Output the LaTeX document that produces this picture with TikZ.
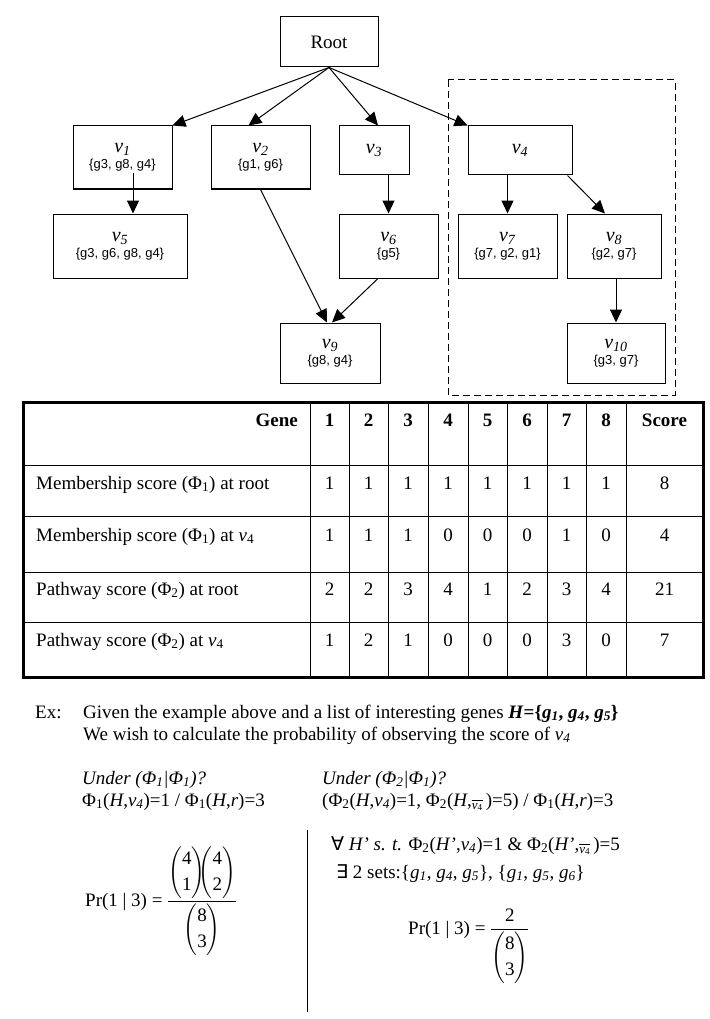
\documentclass[tikz,border=0pt]{standalone}
\usepackage{fix-cm}
\usepackage{amsmath}
\usepackage{fontspec}
\setmainfont{Liberation Serif}
\newfontfamily\arialfont{Liberation Sans}
\newfontfamily\dejavufont{DejaVu Sans}
\usetikzlibrary{arrows.meta}

\newcommand{\bigtext}{\fontsize{19}{19}\selectfont}
\newcommand{\settext}{\arialfont\fontsize{13}{13}\selectfont}
\newcommand{\vlab}[1]{\textit{v}\textsubscript{\textit{#1}}}
\newcommand{\gsub}[1]{\textit{g}\textsubscript{\textit{#1}}}
\newcommand{\vbar}{\raisebox{-3pt}{$\overline{\hbox{\fontsize{13}{13}\selectfont\textit{v}\textsubscript{4}}}$}\,}

\begin{document}
\begin{tikzpicture}[
  x=1pt, y=-1pt,
  vbox/.style={draw, line width=1pt, inner sep=0pt, align=center,
               font=\fontsize{20}{20}\selectfont},
  arr/.style={-{Triangle[length=13pt,width=12pt]}, line width=1pt},
  grid/.style={line width=1pt},
  frame/.style={line width=3pt},
  cell/.style={anchor=base, inner sep=0pt, font=\bigtext},
  txt/.style={anchor=base west, inner sep=0pt, font=\bigtext,
              text height=13pt, text depth=3pt}
]
  \useasboundingbox (0,0) rectangle (709,1019);

  % tree of pathway nodes
  \node[vbox, minimum width=98pt, minimum height=50pt, font=\bigtext] (root) at (329,42) {Root};
  \node[vbox, minimum width=99pt, minimum height=63pt] (v1) at (122.5,157.5)
    {\vlab{1}\\[-4pt]{\settext\{g3, g8, g4\}}};
  \node[vbox, minimum width=99pt, minimum height=63pt] (v2) at (260.5,157.5)
    {\vlab{2}\\[-4pt]{\settext\{g1, g6\}}};
  \node[vbox, minimum width=70pt, minimum height=49pt] (v3) at (374,150.5) {\vlab{3}};
  \node[vbox, minimum width=104pt, minimum height=49pt] (v4) at (520,150.5) {\vlab{4}};
  \node[vbox, minimum width=134pt, minimum height=64pt] (v5) at (120,246)
    {\vlab{5}\\[-4pt]{\settext\{g3, g6, g8, g4\}}};
  \node[vbox, minimum width=99pt, minimum height=64pt] (v6) at (388.5,246)
    {\vlab{6}\\[-4pt]{\settext\{g5\}}};
  \node[vbox, minimum width=99pt, minimum height=64pt] (v7) at (507.5,246)
    {\vlab{7}\\[-4pt]{\settext\{g7, g2, g1\}}};
  \node[vbox, minimum width=94pt, minimum height=64pt] (v8) at (614,246)
    {\vlab{8}\\[-4pt]{\settext\{g2, g7\}}};
  \node[vbox, minimum width=100pt, minimum height=60pt] (v9) at (330,353)
    {\vlab{9}\\[-4pt]{\settext\{g8, g4\}}};
  \node[vbox, minimum width=98pt, minimum height=60pt] (v10) at (616,353)
    {\vlab{10}\\[-4pt]{\settext\{g3, g7\}}};

  % selected subtree
  \draw[line width=1pt, dash pattern=on 7pt off 4pt] (448,80) rectangle (675,395);

  % edges
  \draw[arr] (root.south) -- (v1.north east);
  \draw[arr] (root.south) -- ([xshift=-12pt]v2.north);
  \draw[arr] (root.south) -- ([xshift=4pt]v3.north);
  \draw[arr] (root.south) -- (v4.north west);
  \draw[arr] ([xshift=10.5pt,yshift=16pt]v1.south) -- ([xshift=13pt]v5.north);
  \draw[arr] (v2.south) -- ([xshift=-3pt]v9.north);
  \draw[arr] ([xshift=-10.5pt]v6.south) -- ([xshift=2pt]v9.north);
  \draw[arr] (v6.north |- v3.south) -- (v6.north);
  \draw[arr] (v7.north |- v4.south) -- (v7.north);
  \draw[arr] ([xshift=-5pt]v4.south east) -- ([xshift=-9pt]v8.north);
  \draw[arr] (v10.north |- v8.south) -- (v10.north);

  % score table
  \foreach \x in {310,349,388,428,468,507,547,586,626}
    \draw[grid] (\x,402) -- (\x,677);
  \foreach \y in {465,516,572,622}
    \draw[grid] (23,\y) -- (703,\y);
  \draw[frame] (23,402) rectangle (703,677);

  \node[cell, anchor=base east, font=\bigtext\bfseries] (gene) at (298,426) {Gene};
  \foreach \x [count=\i] in {329.5,368.5,408,448,487.5,527,566.5,606}
    \node[cell, font=\bigtext\bfseries] (head-\i) at (\x,426) {\i};
  \node[cell, font=\bigtext\bfseries] (score) at (664.5,426) {Score};

  \foreach \y/\lab [count=\r] in {
      489/{Membership score (Φ\textsubscript{1}) at root},
      541/{Membership score (Φ\textsubscript{1}) at \textit{v}\textsubscript{4}},
      595/{Pathway score (Φ\textsubscript{2}) at root},
      646/{Pathway score (Φ\textsubscript{2}) at \textit{v}\textsubscript{4}}}
    \node[txt] (row-\r) at (36,\y) {\lab};

  \foreach \vals [count=\r] in {{1,1,1,1,1,1,1,1,8},{1,1,1,0,0,0,1,0,4},
                                {2,2,3,4,1,2,3,4,21},{1,2,1,0,0,0,3,0,7}} {
    \foreach \v [count=\c] in \vals {
      \pgfmathsetmacro{\cx}{{329.5,368.5,408,448,487.5,527,566.5,606,664.5}[\c-1]}
      \pgfmathsetmacro{\cy}{{489,541,595,646}[\r-1]}
      \node[cell] (val-\r-\c) at (\cx,\cy) {\v};
    }
  }

  % worked example
  \node[txt] (ex) at (35,718) {Ex:};
  \node[txt] (given) at (83,718) {Given the example above and a list of interesting genes
    {\bfseries\textit{H}=\{\gsub{1}, \gsub{4}, \gsub{5}\}}};
  \node[txt] (wish) at (83,740) {We wish to calculate the probability of observing the score of \vlab{4}};

  \node[txt] (under1) at (82,784) {\textit{Under (Φ\textsubscript{1}|Φ\textsubscript{1})?}};
  \node[txt] (phi1) at (82,806) {Φ\textsubscript{1}(\textit{H},\vlab{4})=1 / Φ\textsubscript{1}(\textit{H},\textit{r})=3};
  \node[txt] (under2) at (322,784) {\textit{Under (Φ\textsubscript{2}|Φ\textsubscript{1})?}};
  \node[txt] (phi2) at (322,806) {(Φ\textsubscript{2}(\textit{H},\vlab{4})=1, Φ\textsubscript{2}(\textit{H},\vbar)=5) / Φ\textsubscript{1}(\textit{H},\textit{r})=3};

  \draw[line width=1pt] (307,830) -- (307,1012);

  \node[txt, text height=, text depth=] (pr1) at (85,906) {Pr(1 | 3) = $\dfrac{\dbinom{\text{4}}{\text{1}}\!\!\dbinom{\text{4}}{\text{2}}}{\dbinom{\text{8}}{\text{3}}}$};

  \node[txt] (forall) at (331,850) {{\dejavufont ∀}\ \textit{H’ s. t.} Φ\textsubscript{2}(\textit{H’},\vlab{4})=1 \& Φ\textsubscript{2}(\textit{H’},\vbar)=5};
  \node[txt] (exists) at (336,878) {{\dejavufont ∃}\ 2 sets:\{\gsub{1}, \gsub{4}, \gsub{5}\}, \{\gsub{1}, \gsub{5}, \gsub{6}\}};
  \node[txt, text height=, text depth=] (pr2) at (408,934) {Pr(1 | 3) = $\dfrac{\text{2}}{\dbinom{\text{8}}{\text{3}}}$};
\end{tikzpicture}
\end{document}
